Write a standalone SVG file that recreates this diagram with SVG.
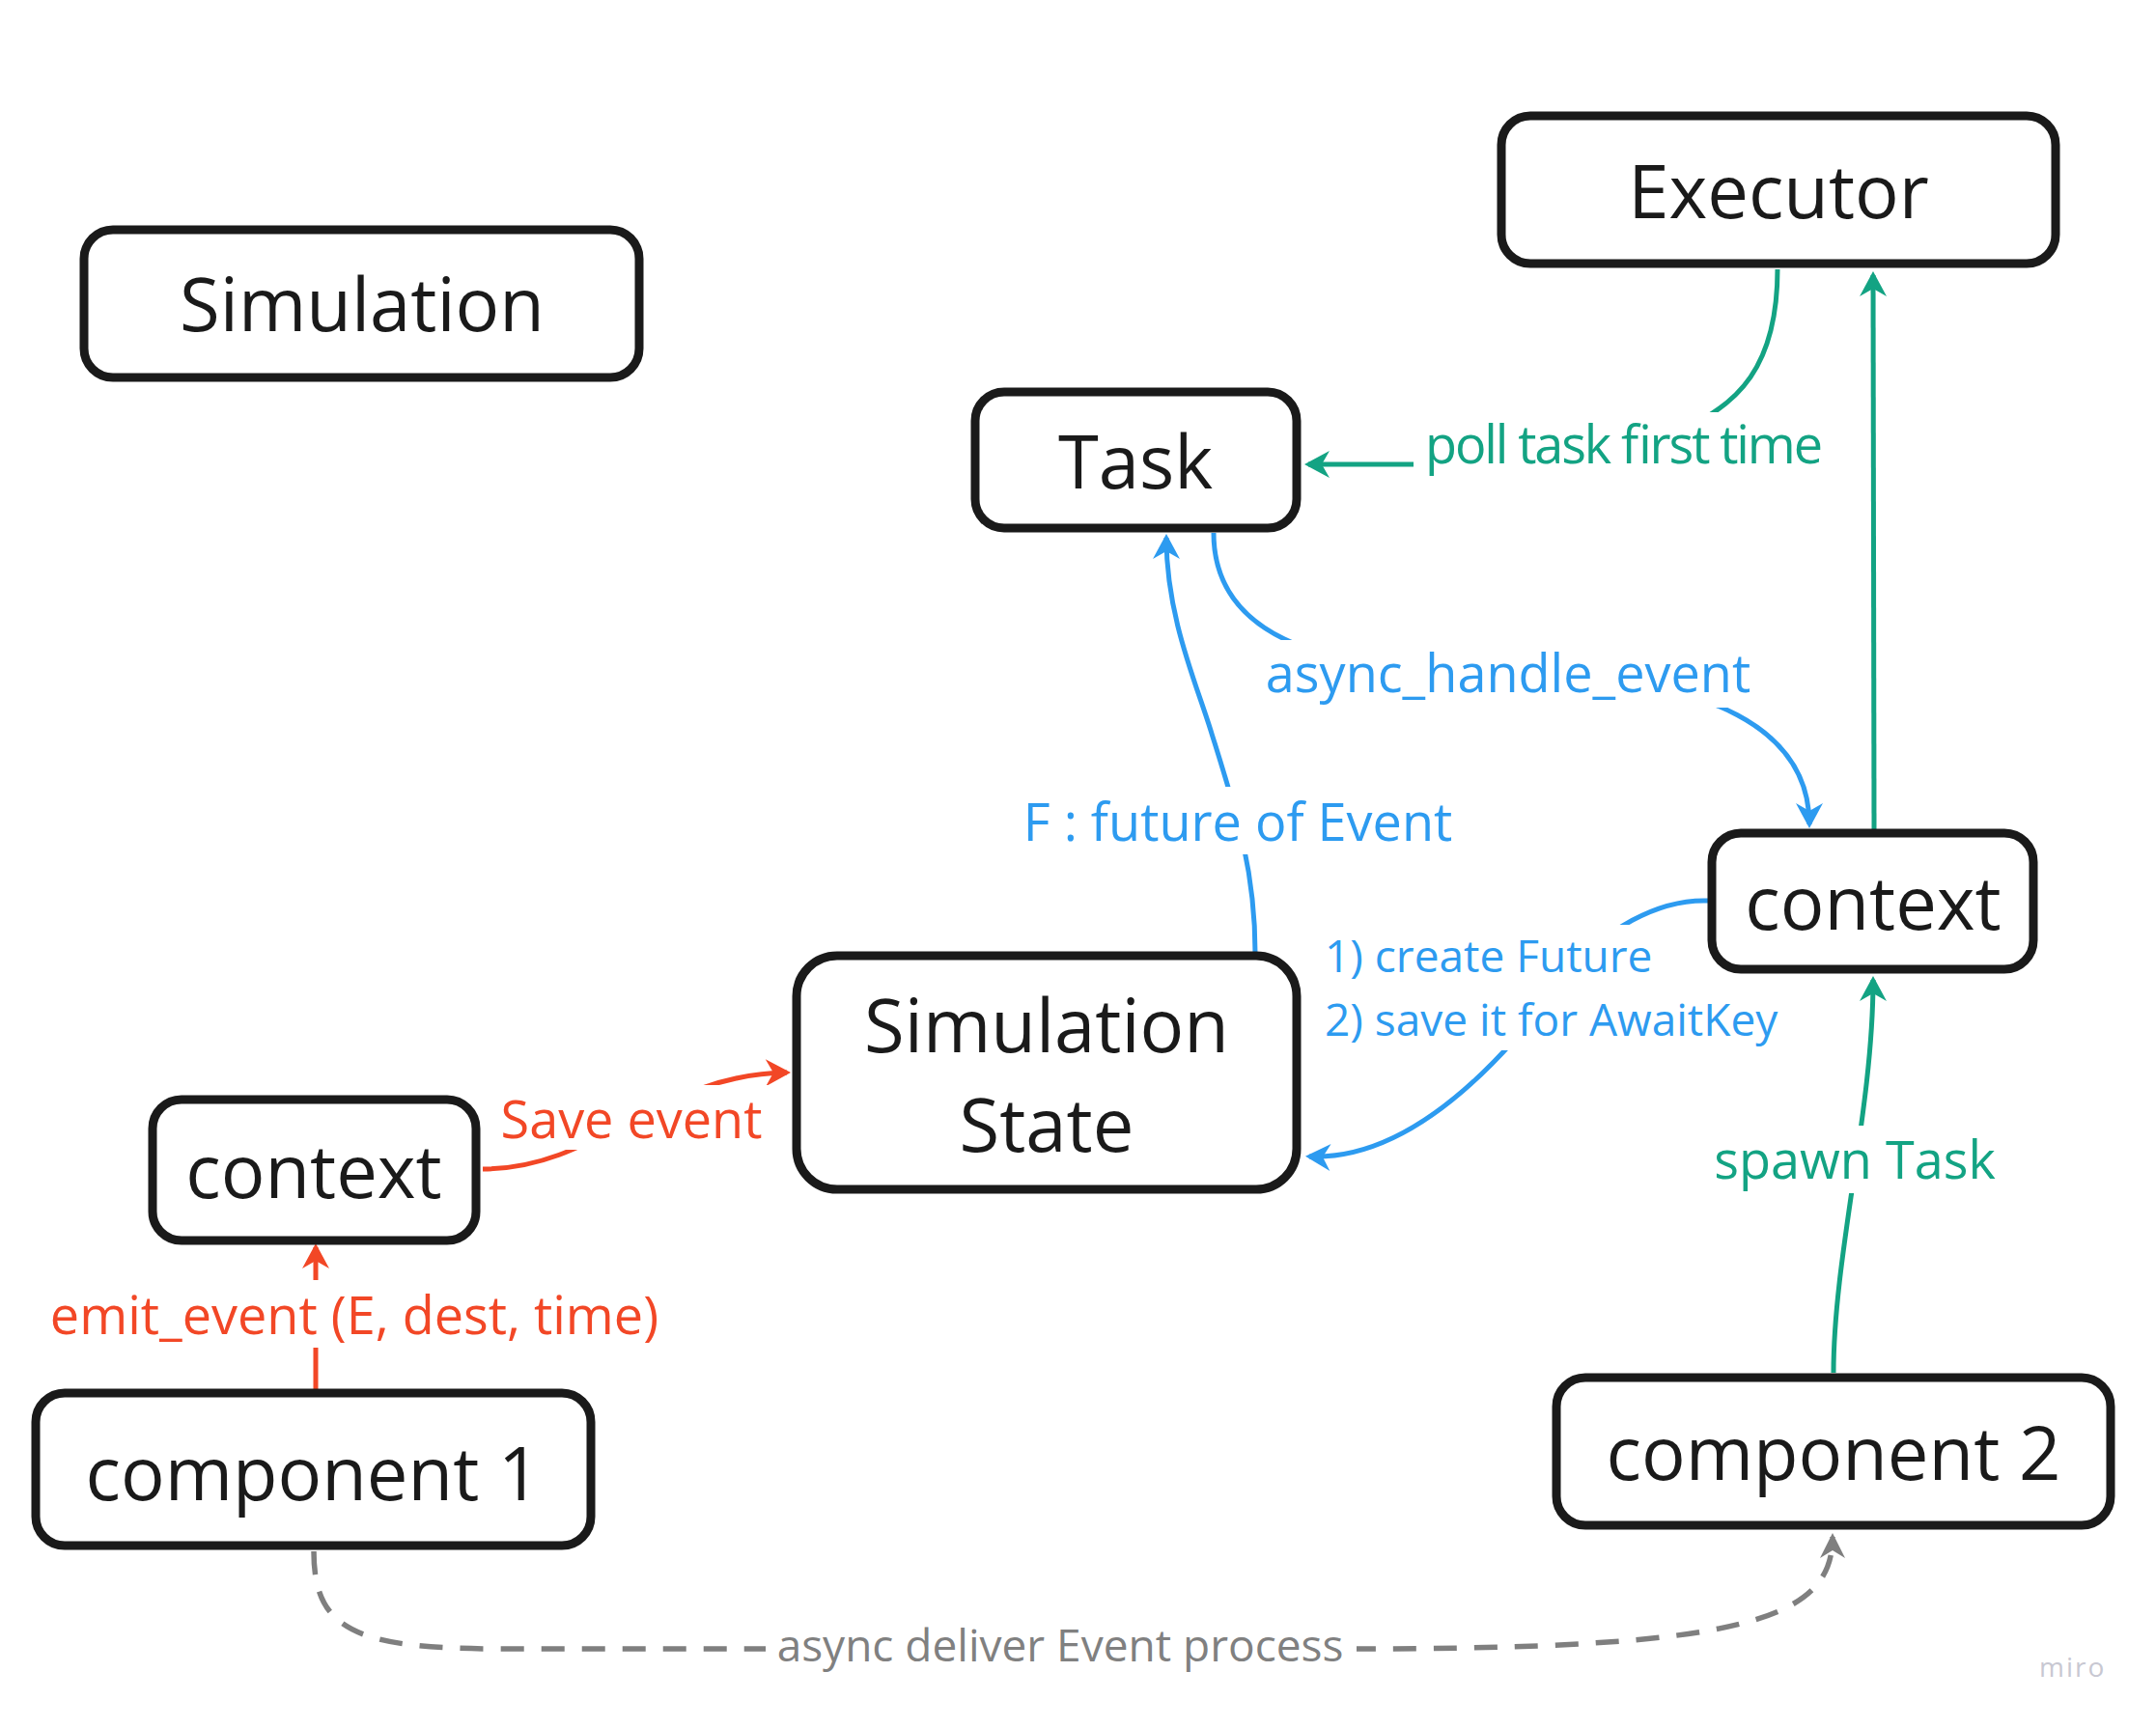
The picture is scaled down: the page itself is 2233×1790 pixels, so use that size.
<svg xmlns="http://www.w3.org/2000/svg" width="2233" height="1790" viewBox="0 0 2233 1790">
<style>
.box{fill:#ffffff;stroke:#1a1a1a;stroke-width:9}
.nt{font-family:"Open Sans","Noto Sans","Liberation Sans",sans-serif;font-size:76px;fill:#1a1a1a;text-anchor:middle}
.lb{font-family:"Open Sans","Noto Sans","Liberation Sans",sans-serif;font-size:54px}
.sm{font-size:46px}
.bg{fill:#ffffff}
.ln{fill:none;stroke-width:5}
.g{stroke:#13a383}.gt{fill:#13a383}
.b{stroke:#2d9bf0}.bt{fill:#2d9bf0}
.r{stroke:#f24726}.rt{fill:#f24726}
.k{stroke:#7f7f7f;stroke-width:5.5;stroke-dasharray:24 18}.kt{fill:#808080}
</style>
<defs>
<marker id="ag" viewBox="-28 -15 30 30" refX="-4" refY="0" markerWidth="30" markerHeight="30" markerUnits="userSpaceOnUse" orient="auto"><path d="M0,0 L-26,-14 L-18,0 L-26,14 Z" fill="#13a383"/></marker>
<marker id="ab" viewBox="-28 -15 30 30" refX="-4" refY="0" markerWidth="30" markerHeight="30" markerUnits="userSpaceOnUse" orient="auto"><path d="M0,0 L-26,-14 L-18,0 L-26,14 Z" fill="#2d9bf0"/></marker>
<marker id="ar" viewBox="-28 -15 30 30" refX="-4" refY="0" markerWidth="30" markerHeight="30" markerUnits="userSpaceOnUse" orient="auto"><path d="M0,0 L-26,-14 L-18,0 L-26,14 Z" fill="#f24726"/></marker>
<marker id="ak" viewBox="-28 -15 30 30" refX="-4" refY="0" markerWidth="30" markerHeight="30" markerUnits="userSpaceOnUse" orient="auto"><path d="M0,0 L-26,-13 L-18,0 L-26,13 Z" fill="#7f7f7f"/></marker>
</defs>
<rect width="2233" height="1790" fill="#ffffff"/>
<g id="connectors">
<path class="ln g" d="M1841,279 C1841,380 1800,420 1740,446 C1700,466 1650,481 1560,481 L1355,481" marker-end="url(#ag)"/>
<path class="ln g" d="M1941,860 L1940,285" marker-end="url(#ag)"/>
<path class="ln b" d="M1257,552 C1257,650 1350,698 1560,698 C1780,698 1874,760 1874,854" marker-end="url(#ab)"/>
<path class="ln b" d="M1300,987 C1300,900 1280,840 1255,760 C1240,710 1208,640 1208,557" marker-end="url(#ab)"/>
<path class="ln b" d="M1770,933 C1720,931 1660,960 1615,1020 C1570,1080 1470,1203 1356,1198" marker-end="url(#ab)"/>
<path class="ln g" d="M1899,1422 C1899,1300 1940,1150 1940,1015" marker-end="url(#ag)"/>
<path class="ln r" d="M500,1211 C620,1211 680,1113 815,1111" marker-end="url(#ar)"/>
<path class="ln r" d="M327,1442 L327,1292" marker-end="url(#ar)"/>
<path class="ln k" d="M325,1607 C325,1690 370,1708 520,1708 L1400,1708 C1800,1708 1898,1680 1898,1592" marker-end="url(#ak)"/>
<rect class="bg" x="1464" y="427" width="436" height="70"/>
<text class="lb gt" x="1476" y="480" textLength="412" lengthAdjust="spacing">poll task first time</text>
<rect class="bg" x="1300" y="663" width="525" height="70"/>
<text class="lb bt" x="1562" y="717" text-anchor="middle">async_handle_event</text>
<rect class="bg" x="1050" y="815" width="466" height="70"/>
<text class="lb bt" x="1282" y="871" text-anchor="middle">F : future of Event</text>
<rect class="bg" x="1362" y="958" width="354" height="62"/>
<rect class="bg" x="1362" y="1020" width="486" height="68"/>
<text class="lb sm bt" x="1372" y="1007">1) create Future</text>
<text class="lb sm bt" x="1372" y="1073">2) save it for AwaitKey</text>
<rect class="bg" x="1766" y="1166" width="310" height="70"/>
<text class="lb gt" x="1921" y="1221" text-anchor="middle">spawn Task</text>
<rect class="bg" x="510" y="1124" width="288" height="67"/>
<text class="lb rt" x="654" y="1179" text-anchor="middle">Save event</text>
<rect class="bg" x="43" y="1326" width="648" height="70"/>
<text class="lb rt" x="367" y="1382" text-anchor="middle">emit_event (E, dest, time)</text>
<rect class="bg" x="793" y="1672" width="612" height="68"/>
<text class="lb sm kt" x="1098" y="1721" text-anchor="middle">async deliver Event process</text>
</g>
<g id="node-simulation"><rect class="box" x="87" y="238" width="575" height="153" rx="30"/><text class="nt" x="375" y="343">Simulation</text></g>
<g id="node-executor"><rect class="box" x="1555" y="120" width="574" height="153" rx="30"/><text class="nt" x="1842" y="226">Executor</text></g>
<g id="node-task"><rect class="box" x="1010" y="406" width="333" height="141" rx="30"/><text class="nt" x="1176" y="506">Task</text></g>
<g id="node-context-right"><rect class="box" x="1773" y="863" width="333" height="141" rx="30"/><text class="nt" x="1940" y="963">context</text></g>
<g id="node-simulation-state"><rect class="box" x="825" y="990" width="518" height="242" rx="42"/><text class="nt" x="1084" y="1090">Simulation</text><text class="nt" x="1084" y="1193">State</text></g>
<g id="node-context-left"><rect class="box" x="158" y="1139" width="335" height="146" rx="30"/><text class="nt" x="325" y="1241">context</text></g>
<g id="node-component-1"><rect class="box" x="37" y="1443" width="575" height="158" rx="30"/><text class="nt" x="324" y="1554">component 1</text></g>
<g id="node-component-2"><rect class="box" x="1612" y="1427" width="574" height="153" rx="30"/><text class="nt" x="1899" y="1533">component 2</text></g>
<text x="2112" y="1737" font-family="'Open Sans','Noto Sans',sans-serif" font-size="28" letter-spacing="2" fill="#c8c8d2">miro</text>
</svg>
